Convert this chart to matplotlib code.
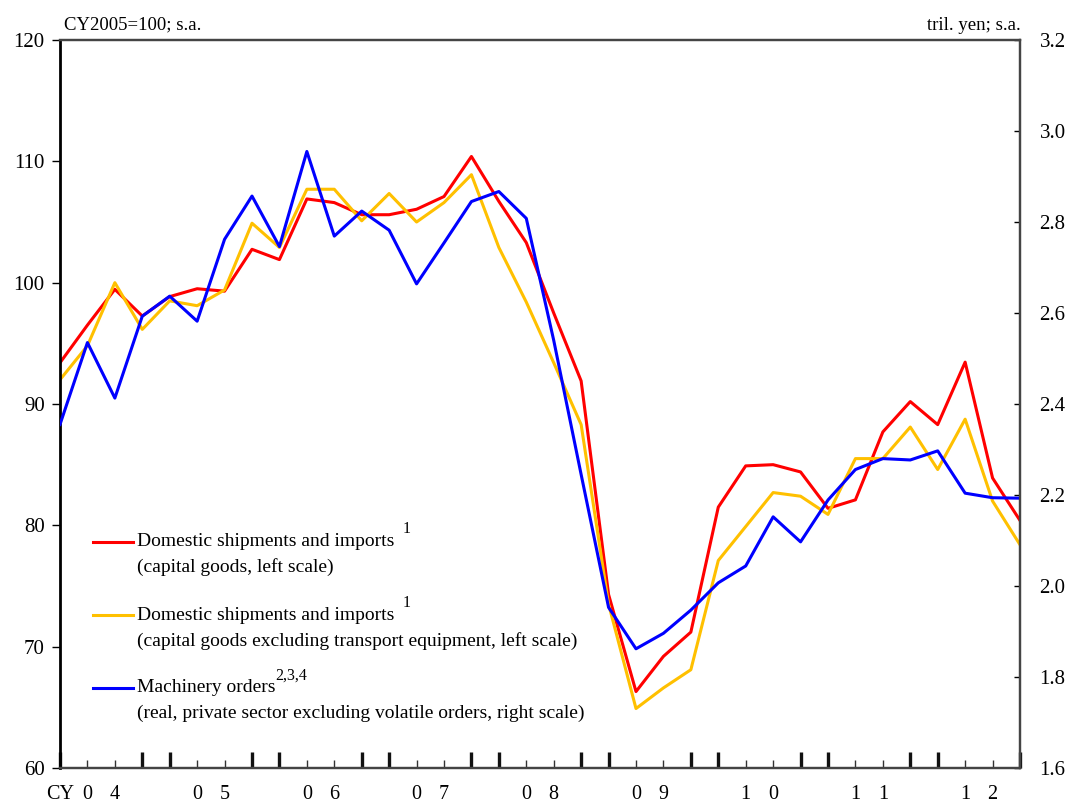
import matplotlib
matplotlib.use("Agg")
from matplotlib import pyplot as plt
from matplotlib.lines import Line2D
import numpy as np

plt.rcParams['font.family'] = ['Liberation Serif', 'DejaVu Serif']

# quarterly, 2004Q1 - 2012Q4
years = ['04', '05', '06', '07', '08', '09', '10', '11', '12']

# Domestic shipments and imports (capital goods), CY2005=100
shipments = [93.4, 96.5, 99.45, 97.25, 98.85, 99.5, 99.3, 102.75, 101.9, 106.9, 106.6, 105.6,
             105.6, 106.05, 107.1, 110.4, 106.7, 103.3, 97.5, 91.9, 74.3, 66.3, 69.2, 71.2,
             81.5, 84.9, 85.0, 84.4, 81.4, 82.1, 87.7, 90.2, 88.3, 93.45, 83.9, 80.4]
# same, excluding transport equipment
shipments_ex = [92.0, 94.8, 100.0, 96.15, 98.5, 98.1, 99.4, 104.9, 102.9, 107.7, 107.7, 105.1,
                107.35, 105.0, 106.6, 108.9, 102.9, 98.4, 93.4, 88.3, 73.5, 64.9, 66.6, 68.1,
                77.1, 79.9, 82.7, 82.4, 80.9, 85.5, 85.5, 88.1, 84.6, 88.75, 82.0, 78.4]
# Machinery orders, tril. yen
orders = [2.355, 2.535, 2.413, 2.593, 2.637, 2.582, 2.762, 2.857, 2.746, 2.955, 2.769, 2.824,
          2.782, 2.664, 2.754, 2.845, 2.867, 2.808, 2.54, 2.245, 1.953, 1.862, 1.896, 1.947,
          2.007, 2.044, 2.152, 2.097, 2.189, 2.256, 2.280, 2.277, 2.297, 2.204, 2.194, 2.193]

RED = '#FF0000'
YEL = '#FFC000'
BLU = '#0000FF'

fig = plt.figure(figsize=(10.68, 8.02), dpi=100)
ax = fig.add_axes([60/1068, 1-768/802, 960/1068, 728/802])
ax2 = ax.twinx()

x = np.arange(len(shipments))
ax.plot(x, shipments, color=RED, lw=2.2)
ax.plot(x, shipments_ex, color=YEL, lw=2.2)
ax2.plot(x, orders, color=BLU, lw=2.2)

ax.set_xlim(0, len(x)-1)
ax.set_ylim(60, 120)
ax2.set_ylim(1.6, 3.2)
ax.set_yticks(np.arange(60, 121, 10))
ax2.set_yticks(np.arange(1.6, 3.21, 0.2))
ax2.set_yticklabels(['%.1f' % v for v in np.arange(1.6, 3.21, 0.2)])

# x labels: one digit per quarter tick, like the excel original
labels = []
for k in x:
    yr = years[k // 4]
    if k == 0:
        labels.append('CY')
    elif k % 4 == 1:
        labels.append(yr[0])
    elif k % 4 == 2:
        labels.append(yr[1])
    else:
        labels.append('')
ax.xaxis.remove_overlapping_locs = False
ax.set_xticks(x)
ax.set_xticklabels(labels)
ax.set_xticks([k for k in x if k % 4 in (0, 3)], minor=True)

ax.tick_params(axis='x', which='major', direction='in', length=6, width=1, pad=12,
               labelsize=14.5, color='#333333')
ax.tick_params(axis='x', which='minor', direction='in', length=11.5, width=2.4, color='#111111')
ax.tick_params(axis='y', direction='out', length=6, width=1, pad=5, labelsize=15)
ax2.tick_params(axis='y', direction='in', length=4, width=1, pad=14, labelsize=15)

for s in ['top', 'right', 'bottom']:
    ax.spines[s].set_color('#444444')
    ax.spines[s].set_linewidth(1.6)
    ax2.spines[s].set_color('#444444')
    ax2.spines[s].set_linewidth(1.6)
ax.spines['left'].set_color('black')
ax.spines['left'].set_linewidth(2)
ax2.spines['left'].set_visible(False)

fig.text(64/1068, 1-25/802, 'CY2005=100; s.a.', fontsize=13.5, va='center', ha='left')
fig.text(1021/1068, 1-25/802, 'tril. yen; s.a.', fontsize=13.5, va='center', ha='right')

# legend drawn by hand (two-line labels with superscripts)
entries = [
    (RED, 'Domestic shipments and imports', '1', '(capital goods, left scale)'),
    (YEL, 'Domestic shipments and imports', '1',
     '(capital goods excluding transport equipment, left scale)'),
    (BLU, 'Machinery orders', '2,3,4',
     '(real, private sector excluding volatile orders, right scale)'),
]
row_y = [0.311, 0.210, 0.110]
for (c, l1, sup, l2), yy in zip(entries, row_y):
    ax.add_line(Line2D([0.034, 0.076], [yy, yy], color=c, lw=2.2, transform=ax.transAxes))
    t = ax.text(0.080, yy, l1, transform=ax.transAxes, fontsize=14, va='center', ha='left')
    ax.annotate(sup, xy=(1, 1), xycoords=t, xytext=(6 if sup == '1' else 0, -3),
                textcoords='offset points', fontsize=11.5, va='bottom', ha='left')
    ax.text(0.080, yy - 0.035, l2, transform=ax.transAxes, fontsize=14, va='center', ha='left')

fig.savefig('out.png', dpi=100)
